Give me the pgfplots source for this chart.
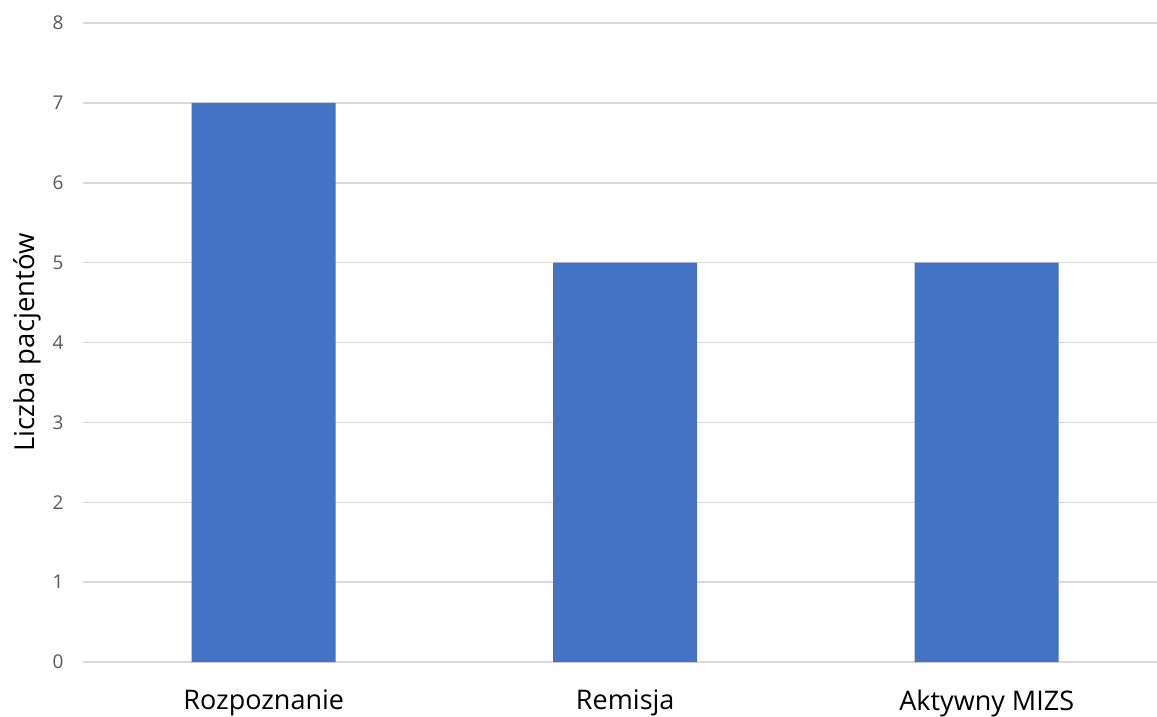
\documentclass[border=0pt]{standalone}
\usepackage{fontspec}
\setmainfont{Open Sans}
\usepackage{pgfplots}
\pgfplotsset{compat=1.18}
\definecolor{barblue}{HTML}{4472C4}
\definecolor{gridgrey}{HTML}{D9D9D9}
\definecolor{ticktext}{HTML}{595959}
\begin{document}
\begin{tikzpicture}
\useasboundingbox (-83pt,-54pt) rectangle (1074pt,662pt);
\begin{axis}[
  scale only axis,
  width=1074pt, height=639pt,
  xmin=-0.5, xmax=2.471,
  ymin=0, ymax=8,
  ytick={0,1,...,8},
  xtick=data,
  xticklabels={Rozpoznanie,Remisja,Aktywny MIZS},
  axis line style={draw=none},
  major tick length=0pt,
  ymajorgrids,
  grid style={gridgrey, line width=1.5pt},
  /pgf/number format/assume math mode=true,
  yticklabel style={font=\fontsize{19}{22}\selectfont, text=ticktext, xshift=-16pt},
  xticklabel style={font=\fontsize{27}{32}\selectfont, text=black, yshift=-24pt},
  ylabel={Liczba pacjentów},
  ylabel style={font=\fontsize{27.5}{32}\selectfont, at={(axis description cs:0,0.5)}, anchor=center, yshift=56pt},
  clip=false,
]
\addplot[ybar, bar width=144pt, fill=barblue, draw=none] coordinates {(0,7) (1,5) (2,5)};
\end{axis}
\end{tikzpicture}
\end{document}
